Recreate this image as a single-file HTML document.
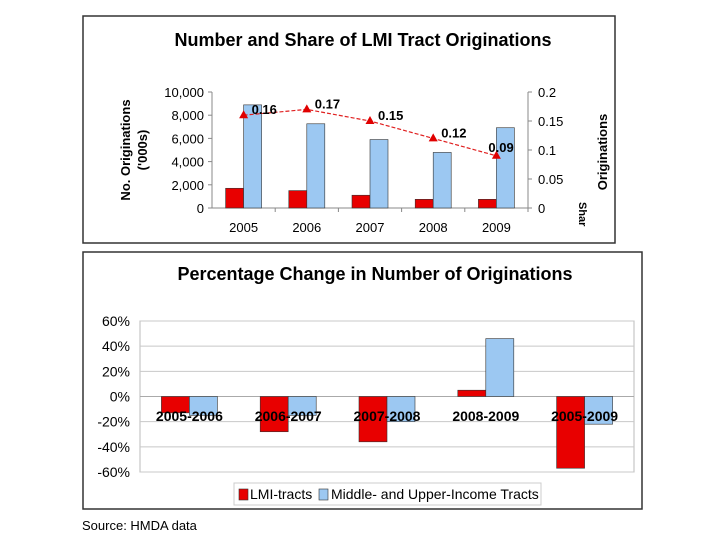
<!DOCTYPE html>
<html><head><meta charset="utf-8"><style>
body{margin:0;background:#fff;width:720px;height:540px;overflow:hidden;font-family:"Liberation Sans",Arial,sans-serif}
</style></head><body>
<svg width="720" height="540" xmlns="http://www.w3.org/2000/svg" font-family="Liberation Sans, Arial, sans-serif">
<rect x="83" y="16" width="532" height="227" fill="#fff" stroke="#333" stroke-width="1.5"/>
<text x="363" y="46" font-size="18" font-weight="bold" text-anchor="middle">Number and Share of LMI Tract Originations</text>
<g id="c1"></g>
<rect x="83" y="252" width="559" height="257" fill="#fff" stroke="#333" stroke-width="1.5"/>
<text x="375" y="280" font-size="18" font-weight="bold" text-anchor="middle">Percentage Change in Number of Originations</text>
<g id="c2"></g>
<text x="82" y="530" font-size="13">Source: HMDA data</text>
</svg>
<script>
const years=["2005","2006","2007","2008","2009"];
const lmiCount=[1700,1500,1100,750,750];
const muiCount=[8890,7260,5900,4790,6920];
const lmiShare=[0.16,0.17,0.15,0.12,0.09];
const leftTicks=[0,2000,4000,6000,8000,10000];
const rightTicks=[0,0.05,0.1,0.15,0.2];
const periods=["2005-2006","2006-2007","2007-2008","2008-2009","2005-2009"];
const lmiPct=[-13,-28,-36,5,-57];
const muiPct=[-15,-15,-20,46,-22];
const pctTicks=[60,40,20,0,-20,-40,-60];
const NS="http://www.w3.org/2000/svg";
function mk(p,t,a,txt){const e=document.createElementNS(NS,t);for(const k in a)e.setAttribute(k,a[k]);if(txt!==undefined)e.textContent=txt;p.appendChild(e);return e;}
// chart 1
const g1=document.getElementById('c1');
const L=212,R=528,T=92,B=208;
const yL=v=>B-(v/10000)*(B-T), yR=v=>B-(v/0.2)*(B-T);
const cw=(R-L)/years.length;
let e=mk(g1,'line',{x1:L,y1:T,x2:L,y2:B,stroke:'#888'});

e=mk(g1,'line',{x1:R,y1:T,x2:R,y2:B,stroke:'#888'});

e=mk(g1,'line',{x1:L,y1:B,x2:R,y2:B,stroke:'#888'});

leftTicks.forEach(v=>{e=mk(g1,'text',{x:L-8,y:yL(v)+5,'font-size':13,'text-anchor':'end'},v.toLocaleString('en-US'));

mk(g1,'line',{x1:L-4,y1:yL(v),x2:L,y2:yL(v),stroke:'#888'});});
rightTicks.forEach(v=>{e=mk(g1,'text',{x:R+10,y:yR(v)+5,'font-size':13},String(v));

mk(g1,'line',{x1:R,y1:yR(v),x2:R+4,y2:yR(v),stroke:'#888'});});
const pts=[];
years.forEach((y,i)=>{const cx=L+cw*(i+0.5);
mk(g1,'line',{x1:L+cw*(i+1),y1:B,x2:L+cw*(i+1),y2:B+4,stroke:'#888'});
e=mk(g1,'rect',{x:cx-18,y:yL(lmiCount[i]),width:18,height:B-yL(lmiCount[i]),fill:'#e80000',stroke:'#333','stroke-width':0.6});

e=mk(g1,'rect',{x:cx,y:yL(muiCount[i]),width:18,height:B-yL(muiCount[i]),fill:'#9cc8f2',stroke:'#333','stroke-width':0.6});

e=mk(g1,'text',{x:cx,y:232,'font-size':13,'text-anchor':'middle'},y);

pts.push([cx,yR(lmiShare[i])]);});
e=mk(g1,'polyline',{points:pts.map(p=>p.join(',')).join(' '),fill:'none',stroke:'#e02020','stroke-width':1.2,'stroke-dasharray':'4,2'});

pts.forEach((p,i)=>{e=mk(g1,'polygon',{points:`${p[0]},${p[1]-5} ${p[0]-4.5},${p[1]+3} ${p[0]+4.5},${p[1]+3}`,fill:'#e00000'});

e=mk(g1,'text',{x:p[0]+(i==4?-8:8),y:p[1]+(i==4?-4:-1),'font-size':13,'font-weight':'bold'},lmiShare[i].toFixed(2));
});
e=mk(g1,'text',{transform:'translate(130,150) rotate(-90)','font-size':13,'font-weight':'bold','text-anchor':'middle'},'No. Originations');

e=mk(g1,'text',{transform:'translate(147,150) rotate(-90)','font-size':13,'font-weight':'bold','text-anchor':'middle'},"('000s)");

e=mk(g1,'text',{transform:'translate(607,152) rotate(-90)','font-size':13,'font-weight':'bold','text-anchor':'middle'},'Originations');

e=mk(g1,'text',{transform:'translate(579,202) rotate(90)','font-size':11,'font-weight':'bold'},'Shar');

// chart 2
const g2=document.getElementById('c2');
const L2=140,R2=634,T2=321,B2=472;
const y2=v=>T2+(60-v)/120*(B2-T2);
const cw2=(R2-L2)/periods.length;
e=mk(g2,'rect',{x:L2,y:T2,width:R2-L2,height:B2-T2,fill:'#fff',stroke:'#bbb'});

pctTicks.forEach(v=>{mk(g2,'line',{x1:L2,y1:y2(v),x2:R2,y2:y2(v),stroke:v==0?'#aaa':'#c8c8c8'});
e=mk(g2,'text',{x:L2-10,y:y2(v)+5,'font-size':14,'text-anchor':'end'},v+'%');
});
periods.forEach((p,i)=>{const cx=L2+cw2*(i+0.5);const bw=28;
let v=lmiPct[i];
e=mk(g2,'rect',{x:cx-bw,y:Math.min(y2(v),y2(0)),width:bw,height:Math.abs(y2(v)-y2(0)),fill:'#e80000',stroke:'#333','stroke-width':0.6});

v=muiPct[i];
e=mk(g2,'rect',{x:cx,y:Math.min(y2(v),y2(0)),width:bw,height:Math.abs(y2(v)-y2(0)),fill:'#9cc8f2',stroke:'#333','stroke-width':0.6});

e=mk(g2,'text',{x:cx,y:421,'font-size':14,'font-weight':'bold','text-anchor':'middle'},p);
});
e=mk(g2,'rect',{x:234,y:483,width:307,height:22,fill:'#fff',stroke:'#ccc'});

mk(g2,'rect',{x:239,y:489,width:9,height:11,fill:'#e80000',stroke:'#333','stroke-width':0.6});
e=mk(g2,'text',{x:250,y:499,'font-size':14},'LMI-tracts');

mk(g2,'rect',{x:319,y:489,width:9,height:11,fill:'#9cc8f2',stroke:'#333','stroke-width':0.6});
e=mk(g2,'text',{x:331,y:499,'font-size':14},'Middle- and Upper-Income Tracts');

</script>
</body></html>
